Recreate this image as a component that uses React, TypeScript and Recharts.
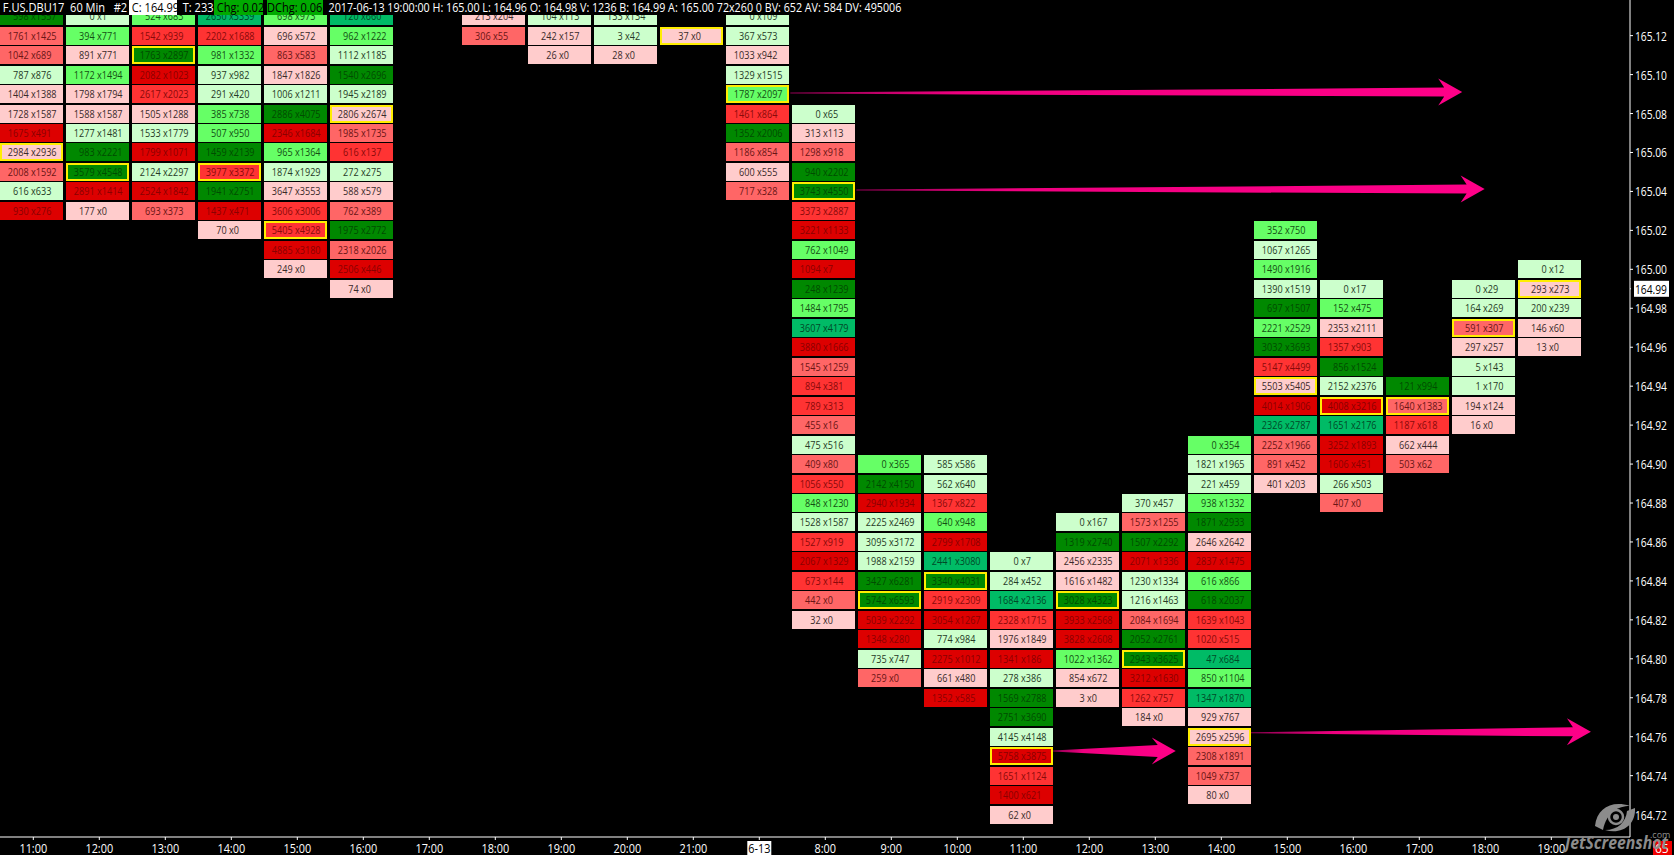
import React from 'react';
import { ScatterChart, Scatter, XAxis, YAxis, ReferenceLine } from 'recharts';

// each row: bid, ask, imbalance level (-4 heavy selling .. 4 heavy buying), top row first
const c00 = [[598,1557,4],[1761,1425,-2],[1042,689,-2],[787,876,1],[1404,1388,-1],[1728,1587,-1],[1675,491,-4],[2984,2936,-1],[2008,1592,-2],[616,633,1],[930,276,-4]];
const c01 = [[0,1,1],[394,771,2],[891,771,-1],[1172,1494,2],[1798,1794,-1],[1588,1587,-1],[1277,1481,1],[983,2221,4],[3579,4548,4],[2891,1414,-4],[177,0,-1]];
const c02 = [[524,683,2],[1542,939,-3],[1763,2897,4],[2082,1023,-4],[2617,2023,-3],[1505,1288,-1],[1533,1779,1],[1799,1071,-4],[2124,2297,1],[2524,1842,-4],[693,373,-2]];
const c03 = [[2650,3339,3],[2202,1688,-3],[981,1332,2],[937,982,1],[291,420,1],[385,738,2],[507,950,2],[1459,2139,4],[3977,3372,-3],[1941,2751,4],[1437,471,-4],[70,0,-1]];
const c04 = [[698,973,2],[696,572,-1],[863,583,-2],[1847,1826,-1],[1006,1211,1],[2886,4075,4],[2346,1684,-4],[965,1364,2],[1874,1929,1],[3647,3553,-1],[3606,3006,-3],[5405,4928,-3],[4885,3180,-4],[249,0,-1]];
const c05 = [[120,660,3],[962,1222,2],[1112,1185,1],[1540,2696,4],[1945,2189,1],[2806,2674,-1],[1985,1735,-2],[616,137,-3],[272,275,1],[588,579,-1],[762,389,-2],[1975,2772,4],[2318,2026,-2],[2506,446,-4],[74,0,-1]];
const c07 = [[213,204,-1],[306,55,-2]];
const c08 = [[104,113,1],[242,157,-1],[26,0,-1]];
const c09 = [[133,134,1],[3,42,1],[28,0,-1]];
const c10 = [[37,0,-1]];
const c11 = [[0,109,1],[367,573,1],[1033,942,-1],[1329,1515,1],[1787,2097,2],[1461,864,-3],[1352,2006,4],[1186,854,-2],[600,555,-1],[717,328,-2]];
const c12 = [[0,65,1],[313,113,-1],[1298,918,-2],[940,2202,4],[3743,4550,4],[3373,2887,-3],[3221,1133,-4],[762,1049,2],[1094,7,-4],[248,1239,4],[1484,1795,2],[3607,4179,3],[3880,1666,-4],[1545,1259,-2],[894,381,-3],[789,313,-3],[455,16,-2],[475,516,1],[409,80,-2],[1056,550,-3],[848,1230,2],[1528,1587,1],[1527,919,-3],[2067,1329,-4],[673,144,-3],[442,0,-2],[32,0,-1]];
const c13 = [[0,365,2],[2142,4150,4],[2940,1934,-4],[2225,2469,1],[3095,3172,1],[1988,2159,1],[3427,6281,4],[5742,6593,4],[5039,2292,-4],[1348,280,-4],[735,747,1],[259,0,-2]];
const c14 = [[585,586,1],[562,640,1],[1367,822,-3],[640,948,2],[2799,1708,-4],[2441,3080,3],[3340,4031,4],[2919,2309,-3],[3054,1267,-4],[774,984,1],[2275,1012,-4],[661,480,-1],[1352,585,-4]];
const c15 = [[0,7,1],[284,452,1],[1684,2136,3],[2328,1715,-3],[1976,1849,-1],[1341,186,-4],[278,386,1],[1569,2788,4],[2751,3690,4],[4145,4148,1],[5758,3875,-4],[1651,1124,-3],[1400,621,-4],[62,0,-1]];
const c16 = [[0,167,1],[1319,2740,4],[2456,2335,-1],[1616,1482,-1],[3028,4323,4],[3933,2568,-4],[3828,2608,-4],[1022,1362,2],[854,672,-1],[3,0,-1]];
const c17 = [[370,457,1],[1573,1255,-2],[1507,2292,4],[2071,1336,-4],[1230,1334,1],[1216,1463,1],[2084,1694,-2],[2052,2761,4],[2943,3625,4],[3212,1630,-4],[1262,757,-3],[184,0,-1]];
const c18 = [[0,354,2],[1821,1965,1],[221,459,1],[938,1332,2],[1871,2933,4],[2646,2642,-1],[2837,1475,-4],[616,866,2],[618,2037,4],[1639,1043,-3],[1020,515,-3],[47,684,3],[850,1104,2],[1347,1870,3],[929,767,-1],[2695,2596,-1],[2308,1891,-2],[1049,737,-2],[80,0,-1]];
const c19 = [[352,750,2],[1067,1265,1],[1490,1916,2],[1390,1519,1],[697,1507,4],[2221,2529,2],[3032,3693,4],[5147,4499,-3],[5503,5405,-1],[4014,1906,-4],[2326,2787,3],[2252,1966,-2],[891,452,-2],[401,203,-1]];
const c20 = [[0,17,1],[152,475,2],[2353,2111,-1],[1357,903,-3],[856,1524,4],[2152,2376,1],[4008,3216,-4],[1651,2176,3],[3252,1893,-4],[1606,451,-4],[266,503,1],[407,0,-2]];
const c21 = [[121,994,4],[1640,1383,-2],[1187,618,-3],[662,444,-1],[503,62,-2]];
const c22 = [[0,29,1],[164,269,1],[591,307,-2],[297,257,-1],[5,143,1],[1,170,1],[194,124,-1],[16,0,-1]];
const c23 = [[0,12,1],[293,273,-1],[200,239,1],[146,60,-1],[13,0,-1]];

const columns = [c00,c01,c02,c03,c04,c05,[],c07,c08,c09,c10,c11,c12,c13,c14,c15,c16,c17,c18,c19,c20,c21,c22,c23];
const topPrices = [165.13,165.13,165.13,165.13,165.13,165.13,0,165.13,165.13,165.13,165.12,165.13,165.08,164.90,164.90,164.85,164.87,164.88,164.91,165.02,164.99,164.94,164.99,165.00];
// price with the largest volume of each bar (yellow box), null when it is off the top
const pocPrices = [165.06,165.05,165.11,165.05,165.02,165.08,null,null,null,null,165.12,165.09,165.04,164.83,164.84,164.75,164.83,164.80,164.76,164.94,164.93,164.93,164.97,164.99];

const timeLabels = ['11:00','12:00','13:00','14:00','15:00','16:00','17:00','18:00','19:00','20:00','21:00','6-13','8:00','9:00','10:00','11:00','12:00','13:00','14:00','15:00','16:00','17:00','18:00','19:00'];
const priceTicks = [164.72,164.74,164.76,164.78,164.8,164.82,164.84,164.86,164.88,164.9,164.92,164.94,164.96,164.98,164.99,165,165.02,165.04,165.06,165.08,165.1,165.12];
const lastPrice = 164.99;

const arrows = [
  { from: [11.47, 165.0905], to: [21.65, 165.091] },
  { from: [12.47, 165.0407], to: [21.99, 165.0412] },
  { from: [15.45, 164.7527], to: [17.31, 164.7527] },
  { from: [18.45, 164.762], to: [23.6, 164.7625] },
];

const leftInfo = 'F.US.DBU17  60 Min   #2';
const restInfo = '2017-06-13 19:00:00 H: 165.00 L: 164.96 O: 164.98 V: 1236 B: 164.99 A: 165.00 72x260 0 BV: 652 AV: 584 DV: 495006';

const fillByLevel: Record<number, string> = {
  [-1]: '#ffcccc', [-2]: '#ff6666', [-3]: '#ff3333', [-4]: '#dd0000',
  1: '#ccffcc', 2: '#66ff66', 3: '#00bb66', 4: '#008800',
};
const textByLevel: Record<number, string> = {
  [-1]: '#3a2a2a', [-2]: '#6a1515', [-3]: '#8a0a0a', [-4]: '#8a0000',
  1: '#263a26', 2: '#145014', 3: '#004a28', 4: '#004c00',
};

const FONT = '"Open Sans", "Noto Sans", sans-serif';

const rows = columns.flatMap((cells, col) =>
  cells.map((c, i) => {
    const price = Number((topPrices[col] - i * 0.01).toFixed(2));
    return { col, price, bid: c[0], ask: c[1], level: c[2], poc: pocPrices[col] === price };
  })
);

const Cell = (props: any) => {
  const { cx, cy, payload } = props;
  const left = cx - 33.3;
  const top = Math.round(cy - 9);
  const mid = left + 31;
  const { bid, ask, level, poc } = payload;
  return (
    <g>
      <rect x={left} y={top} width={63} height={18} fill={fillByLevel[level]} />
      {poc && (
        <rect x={left + 1} y={top + 1} width={61} height={16} fill="none" stroke="#ffee00" strokeWidth={2} />
      )}
      {/* the original font is narrower than anything installed */}
      <text transform={`translate(${mid} ${top + 13}) scale(0.79 1)`} fontSize={11.5} fontFamily={FONT} fill={textByLevel[level]}>
        <tspan x={0} textAnchor="end">{bid} </tspan>
        <tspan x={0} textAnchor="start">x{ask}</tspan>
      </text>
    </g>
  );
};

const Arrow = (props: any) => {
  const { x1, y1, x2, y2, idx } = props;
  const neck = x2 - 18;
  const barb = x2 - 24;
  const shaft = x2 - x1 < 200 ? 6 : 4.5;
  const pts = [
    [x1, y1 - 0.5], [neck, y2 - shaft], [barb, y2 - 13.5], [x2, y2],
    [barb, y2 + 13.5], [neck, y2 + shaft], [x1, y1 + 0.5],
  ].map(p => p.join(',')).join(' ');
  return (
    <g>
      <defs>
        <linearGradient id={`arrow${idx}`} x1="0" y1="0" x2="1" y2="0">
          <stop offset="0" stopColor="#8c0050" />
          <stop offset="0.25" stopColor="#f00080" />
          <stop offset="1" stopColor="#ff0088" />
        </linearGradient>
      </defs>
      <polygon points={pts} fill={`url(#arrow${idx})`} />
    </g>
  );
};

const TimeTick = (props: any) => {
  const { x, y, payload } = props;
  const label = timeLabels[payload.value];
  const isDate = label === '6-13';
  return (
    <g>
      {isDate && <rect x={x - 12} y={y - 1} width={24} height={16} fill="#fff" />}
      <text
        transform={`translate(${x} ${y + 11}) scale(0.87 1)`}
        textAnchor="middle"
        fontSize={12.5}
        fontFamily={FONT}
        fill={isDate ? '#000' : '#fff'}
      >
        {label}
      </text>
    </g>
  );
};

const PriceTick = (props: any) => {
  const { x, y, payload } = props;
  const isLast = payload.value === lastPrice;
  return (
    <g>
      {isLast && <rect x={x - 4} y={y - 2} width={3} height={4} fill="#000" />}
      {isLast && <rect x={x - 1} y={y - 8} width={35} height={16} fill="#fff" />}
      <text
        transform={`translate(${x} ${y + 5}) scale(0.82 1)`}
        fontSize={12.5}
        fontFamily={FONT}
        fill={isLast ? '#000' : '#fff'}
      >
        {payload.value.toFixed(2)}
      </text>
    </g>
  );
};

const headerSpan = (left: number, width: number, text: string, bg: string, color: string, squeeze = 0.85) => (
  <div
    style={{
      position: 'absolute', left, top: 0, width, height: 15, background: bg, color,
      font: `13px/15px ${FONT}`, whiteSpace: 'pre', overflow: 'hidden',
    }}
  >
    <span style={{ display: 'inline-block', transform: `scaleX(${squeeze})`, transformOrigin: 'left' }}>{text}</span>
  </div>
);

const App = () => {
  return (
    <div style={{ position: 'absolute', left: 0, top: 0, width: 1674, height: 855, background: '#000', overflow: 'hidden' }}>
      <ScatterChart width={1674} height={855} margin={{ top: 0, right: 0, bottom: 0, left: 0 }}>
        <XAxis
          type="number"
          dataKey="col"
          domain={[-0.5045, 24.1924]}
          allowDataOverflow
          ticks={timeLabels.map((_, i) => i)}
          interval={0}
          height={18}
          stroke="#fff"
          tickSize={3}
          tick={<TimeTick />}
        />
        <YAxis
          type="number"
          dataKey="price"
          orientation="right"
          domain={[164.7085, 165.1383]}
          allowDataOverflow
          ticks={priceTicks}
          interval={0}
          width={44}
          stroke="#fff"
          tickSize={3}
          tick={<PriceTick />}
        />
        <Scatter data={rows} isAnimationActive={false} shape={<Cell />} />
        {arrows.map((a, i) => (
          <ReferenceLine
            key={i}
            ifOverflow="visible"
            segment={[{ x: a.from[0], y: a.from[1] }, { x: a.to[0], y: a.to[1] }]}
            shape={(p: any) => <Arrow {...p} idx={i} />}
          />
        ))}
      </ScatterChart>

      {headerSpan(0, 129, ` ${leftInfo}`, '#000', '#fff')}
      {headerSpan(129, 48, ' C: 164.99', '#fff', '#000')}
      {headerSpan(177, 37, '  T: 233', '#000', '#fff')}
      {headerSpan(214, 49, ' Chg: 0.02', '#00aa00', '#000')}
      {headerSpan(263, 4, '', '#000', '#fff')}
      {headerSpan(267, 56, 'DChg: 0.06', '#00aa00', '#000')}
      {headerSpan(323, 700, `  ${restInfo}`, '#000', '#fff', 0.825)}

      <svg style={{ position: 'absolute', left: 0, top: 0 }} width={1674} height={855}>
        <rect x={1653} y={841} width={19} height={14} fill="#ee0000" />
        <text x={1655} y={853} fontSize={12} fontFamily={FONT} fill="#fff">65</text>
        <g fill="#8c8c8c">
          <path d="M1595 826 C1597 808 1612 800 1630 806 C1618 806 1607 812 1603 830 Z" />
          <path d="M1635 808 C1636 825 1622 835 1605 830 C1618 830 1626 822 1627 811 Z" />
          <circle cx={1616} cy={817} r={3} />
        </g>
        <circle cx={1616} cy={817} r={7} fill="none" stroke="#8c8c8c" strokeWidth={2.5} />
        <text
          x={1565}
          y={849}
          fontSize={18}
          fontStyle="italic"
          fontWeight={700}
          fontFamily={FONT}
          fill="#8c8c8c"
          textLength={103}
          lengthAdjust="spacingAndGlyphs"
        >
          JetScreenshot
        </text>
        <text x={1650} y={838} fontSize={9} fontFamily={FONT} fill="#8c8c8c">.com</text>
      </svg>
    </div>
  );
};

export default App;
